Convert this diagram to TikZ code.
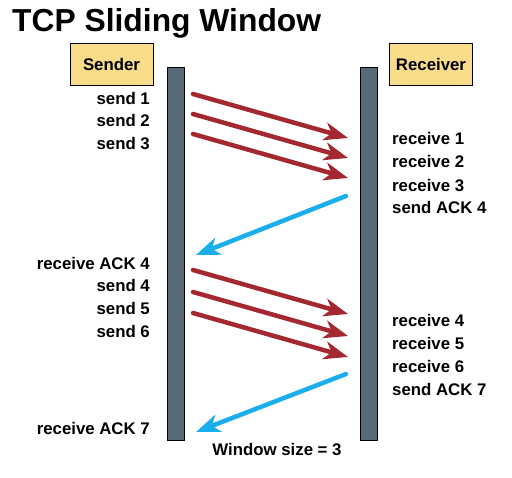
\documentclass[tikz,border=0pt]{standalone}
\usepackage{fontspec}
\setmainfont{Liberation Sans}
\usetikzlibrary{arrows.meta}
\definecolor{redarr}{HTML}{A3282F}
\definecolor{bluearr}{HTML}{1BAEEC}
\definecolor{barcol}{HTML}{566B75}
\definecolor{boxcol}{HTML}{F8DC8A}
\begin{document}
\begin{tikzpicture}[x=1pt,y=-1pt,
  lbl/.style={font=\bfseries\fontsize{16.8}{18}\selectfont, inner sep=0pt},
  lblr/.style={lbl, anchor=base east},
  lbll/.style={lbl, anchor=base west},
  hostbox/.style={draw=black, fill=boxcol, line width=0.8pt, font=\bfseries\fontsize{16.8}{18}\selectfont, minimum width=83pt, minimum height=42pt, inner sep=0pt},
  timebar/.style={draw=black, fill=barcol, line width=0.8pt, minimum width=17pt, minimum height=373pt, inner sep=0pt},
  dataarr/.style={draw=redarr, line width=4.5pt, line cap=round, -{Stealth[length=24pt,width=18pt,inset=7pt]}},
  ackarr/.style={draw=bluearr, line width=4.5pt, line cap=round, -{Stealth[length=24pt,width=18pt,inset=7pt]}}
]
\useasboundingbox (0,0) rectangle (512,478);
\node[anchor=base west, inner sep=0pt, font=\bfseries\fontsize{31.8}{36}\selectfont] (title) at (12,32) {TCP Sliding Window};
\node[hostbox] (sender) at (111.5,64) {Sender};
\node[hostbox] (receiver) at (431,64) {Receiver};
\node[timebar] (sbar) at (175.5,253.5) {};
\node[timebar] (rbar) at (368.5,253.5) {};
% coordinates for arrows
\coordinate (s1) at (193,94);  \coordinate (r1) at (348,138);
\coordinate (s2) at (193,114); \coordinate (r2) at (348,158);
\coordinate (s3) at (193,134); \coordinate (r3) at (348,178);
\coordinate (ra4) at (346,196); \coordinate (sa4) at (196,255);
\coordinate (s4) at (193,270); \coordinate (r4) at (348,314);
\coordinate (s5) at (193,292); \coordinate (r5) at (348,336);
\coordinate (s6) at (193,313); \coordinate (r6) at (348,357);
\coordinate (ra7) at (346,374); \coordinate (sa7) at (196,432);
\draw[dataarr] (s1) -- (r1);
\draw[dataarr] (s2) -- (r2);
\draw[dataarr] (s3) -- (r3);
\draw[ackarr] (ra4) -- (sa4);
\draw[dataarr] (s4) -- (r4);
\draw[dataarr] (s5) -- (r5);
\draw[dataarr] (s6) -- (r6);
\draw[ackarr] (ra7) -- (sa7);
% sender labels
\node[lblr] (ls1) at (150,105) {send 1};
\node[lblr] (ls2) at (150,127) {send 2};
\node[lblr] (ls3) at (150,150) {send 3};
\node[lblr] (lsa4) at (150,270) {receive ACK 4};
\node[lblr] (ls4) at (150,292) {send 4};
\node[lblr] (ls5) at (150,315) {send 5};
\node[lblr] (ls6) at (150,338) {send 6};
\node[lblr] (lsa7) at (150,435) {receive ACK 7};
% receiver labels
\node[lbll] (lr1) at (392,145) {receive 1};
\node[lbll] (lr2) at (392,168) {receive 2};
\node[lbll] (lr3) at (392,192) {receive 3};
\node[lbll] (lra4) at (392,214) {send ACK 4};
\node[lbll] (lr4) at (392,327) {receive 4};
\node[lbll] (lr5) at (392,350) {receive 5};
\node[lbll] (lr6) at (392,373) {receive 6};
\node[lbll] (lra7) at (392,396) {send ACK 7};
\node[lbl, anchor=base] (win) at (277,456) {Window size = 3};
\end{tikzpicture}
\end{document}
